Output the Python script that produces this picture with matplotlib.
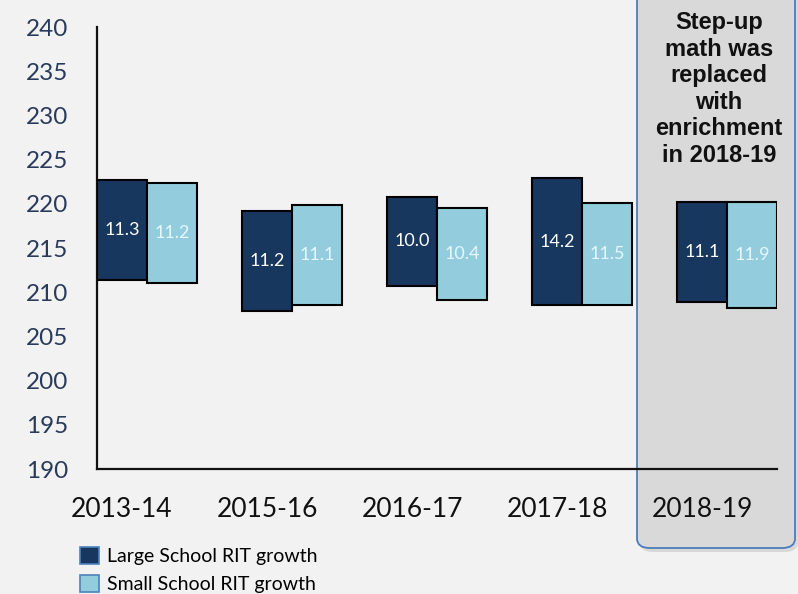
import matplotlib
matplotlib.use("Agg")
import matplotlib.pyplot as plt
from matplotlib.patches import FancyBboxPatch, Patch
import numpy as np

categories = ['2013-14', '2015-16', '2016-17', '2017-18', '2018-19']
large_low = [211.4, 207.9, 210.7, 208.5, 208.9]
large_high = [222.7, 219.2, 220.8, 222.9, 220.2]
small_low = [211.0, 208.6, 209.1, 208.6, 208.2]
small_high = [222.3, 219.9, 219.5, 220.1, 220.2]
large_growth = ['11.3', '11.2', '10.0', '14.2', '11.1']
small_growth = ['11.2', '11.1', '10.4', '11.5', '11.9']
yticks = [190, 195, 200, 205, 210, 215, 220, 225, 230, 235, 240]
legend_labels = ['Large School RIT growth', 'Small School RIT growth']
note = 'Step-up\nmath was\nreplaced\nwith\nenrichment\nin 2018-19'

dark = '#17375e'
light = '#93cddd'
bg = '#f2f2f2'

fig = plt.figure(figsize=(7.98, 5.94), dpi=100, facecolor=bg)
ax = fig.add_axes([97/798, 1-469/594, 680/798, 442/594])
ax.set_facecolor('none')

# annotation box behind axes
box = FancyBboxPatch((637/798, 1-548/594), 158/798, 600/594,
                     boxstyle='round,pad=0,rounding_size=0.016',
                     transform=fig.transFigure, facecolor='#d9d9d9',
                     edgecolor='#4a7ebb', linewidth=1.3, zorder=-1)
shadow = FancyBboxPatch((640/798, 1-552/594), 158/798, 600/594,
                        boxstyle='round,pad=0,rounding_size=0.016',
                        transform=fig.transFigure, facecolor='#c8c8c8',
                        edgecolor='none', alpha=0.6, zorder=-2)
fig.patches.extend([shadow, box])
fig.text(719/798, 1-89/594, note, ha='center', va='center', fontsize=17,
         fontweight='bold', family='Liberation Sans', linespacing=1.2,
         color='#111111')

x = np.arange(len(categories))
w = 0.345
lh = np.array(large_high) - np.array(large_low)
sh = np.array(small_high) - np.array(small_low)
b1 = ax.bar(x, lh, bottom=large_low, width=w, color=dark, edgecolor='black',
            linewidth=1.5, zorder=3)
b2 = ax.bar(x + w, sh, bottom=small_low, width=w, color=light,
            edgecolor='black', linewidth=1.5, zorder=3)
ax.bar_label(b1, labels=large_growth, label_type='center', color='white',
             fontsize=13, family='Lato', zorder=4)
ax.bar_label(b2, labels=small_growth, label_type='center', color='#e6f7ff',
             fontsize=13, family='Lato', zorder=4)

ax.set_xlim(-w/2, len(categories) - 1 + 1.5*w)
ax.set_ylim(190, 240)
ax.set_yticks(yticks)
ax.set_xticks(x)
ax.set_xticklabels(categories)
ax.tick_params(axis='both', length=0)
ax.tick_params(axis='y', pad=21, labelsize=17.5, labelcolor='#2a3a5a')
ax.tick_params(axis='x', pad=20, labelsize=19, labelcolor='#111111')
for lab in ax.get_xticklabels() + ax.get_yticklabels():
    lab.set_family('Lato')
for s in ['top', 'right']:
    ax.spines[s].set_visible(False)
for s in ['left', 'bottom']:
    ax.spines[s].set_linewidth(1.6)
    ax.spines[s].set_color('#111111')
    ax.spines[s].set_zorder(2)

handles = [Patch(facecolor=dark, edgecolor='#4f81bd', linewidth=1.2),
           Patch(facecolor=light, edgecolor='#4f81bd', linewidth=1.2)]
leg = fig.legend(handles, legend_labels, loc='upper left',
                 bbox_to_anchor=(80/798, 1-547/594), frameon=False,
                 prop={'family': 'Lato', 'size': 14}, handlelength=1.0,
                 handleheight=1.0, handletextpad=0.4, labelspacing=0.5,
                 borderpad=0, borderaxespad=0)

fig.savefig('out.png', dpi=100, facecolor=bg)
